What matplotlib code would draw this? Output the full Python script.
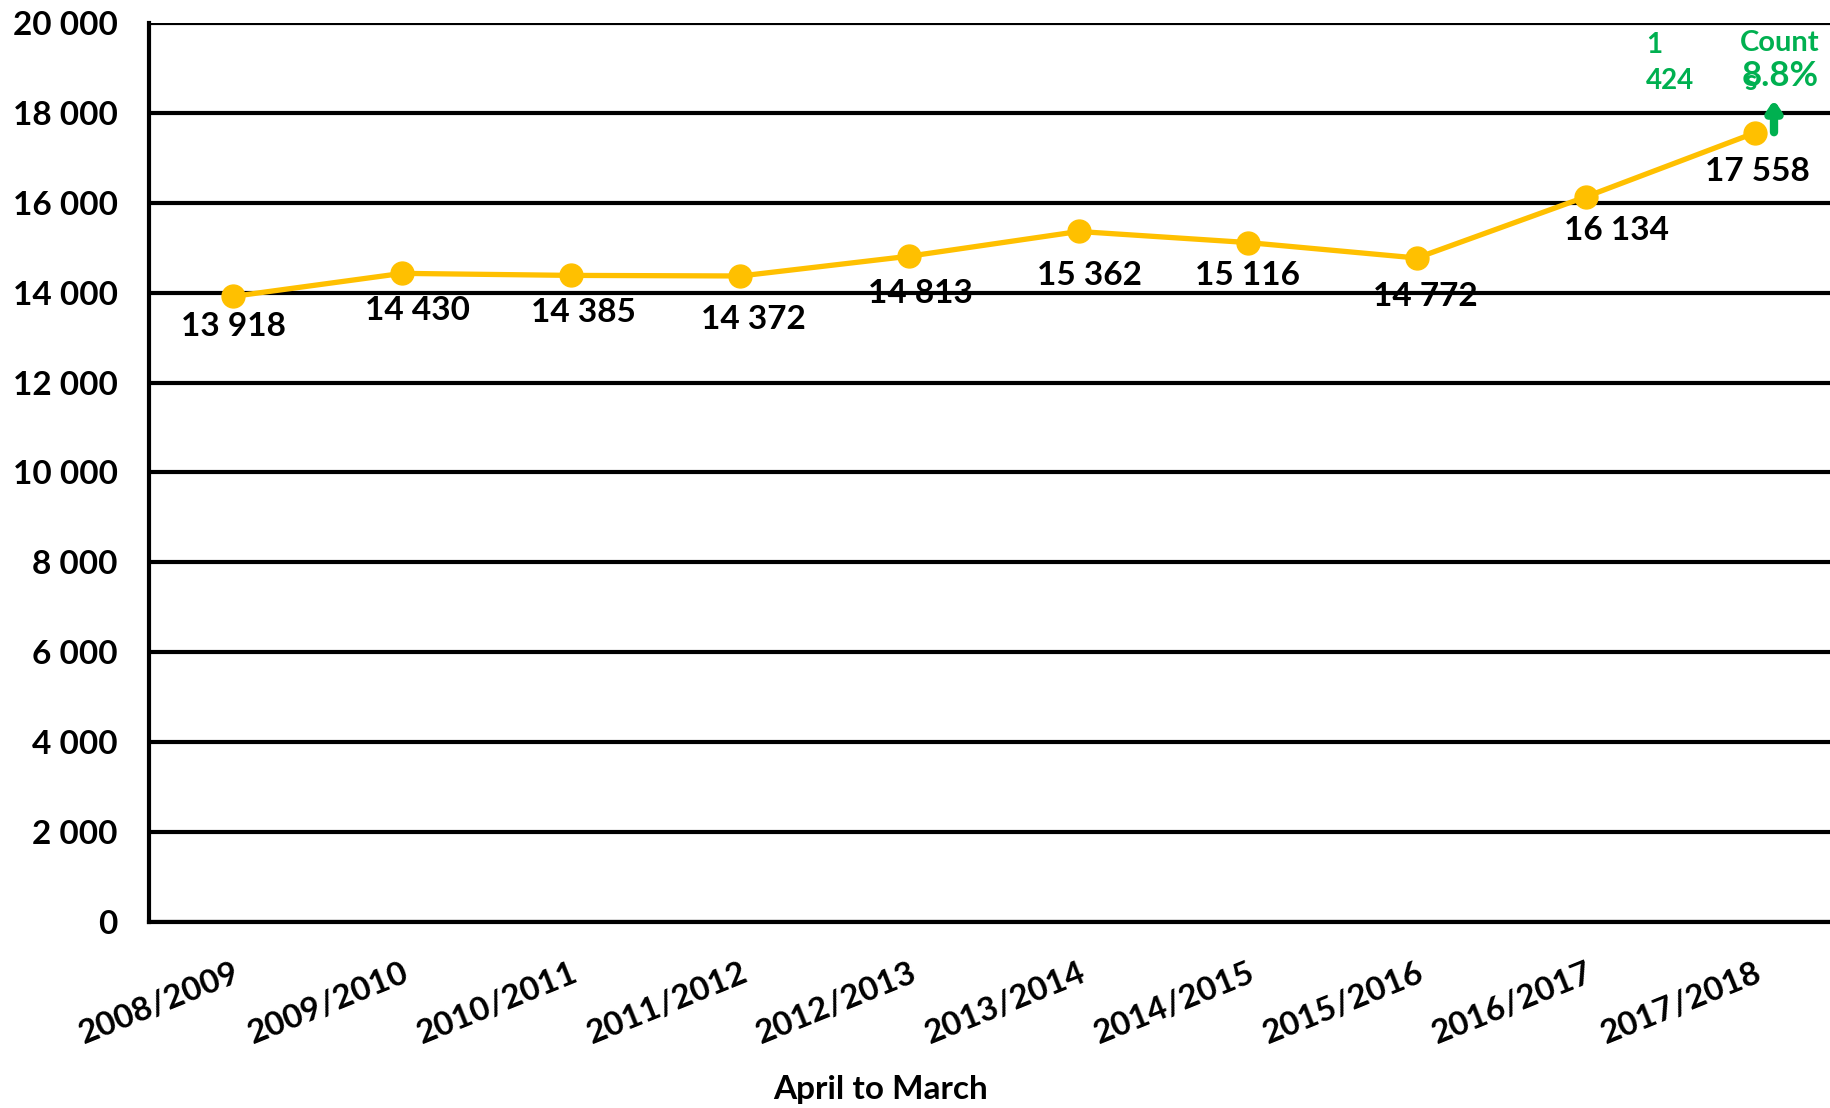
import matplotlib
matplotlib.use("Agg")
import matplotlib.pyplot as plt
from matplotlib.ticker import FuncFormatter

plt.rcParams['font.family'] = ['Lato', 'DejaVu Sans']
plt.rcParams['font.weight'] = 'bold'

years = ["2008/2009", "2009/2010", "2010/2011", "2011/2012", "2012/2013",
         "2013/2014", "2014/2015", "2015/2016", "2016/2017", "2017/2018"]
counts = [13918, 14430, 14385, 14372, 14813, 15362, 15116, 14772, 16134, 17558]
yticks = list(range(0, 20001, 2000))
change_abs = "1\n424"
change_pct = "8.8%"

# label offsets in points (dx, dy)
label_offsets = [(0, -22), (11, -27), (9, -27), (9, -31), (8, -27),
                 (8, -32), (0, -24), (6, -28), (22, -24), (2, -28)]

W, H = 1830, 1108
fig = plt.figure(figsize=(W / 100, H / 100), dpi=100)
ax = fig.add_axes([148.5 / W, 1 - 922 / H, (1839.6 - 148.5) / W, (922 - 23) / H])

x = list(range(len(years)))
ax.plot(x, counts, color="#FFC000", lw=3.8, marker="o", ms=16.5, zorder=3,
        solid_capstyle="round")

ax.set_xlim(-0.5, len(years) - 0.5)
ax.set_ylim(0, 20000)
ax.set_yticks(yticks)
ax.yaxis.set_major_formatter(FuncFormatter(lambda v, p: f"{int(v):,}".replace(",", " ")))
ax.grid(axis="y", color="black", lw=3)
ax.set_axisbelow(True)
for s in ["top", "right"]:
    ax.spines[s].set_visible(False)
ax.spines["left"].set_linewidth(3)
ax.spines["bottom"].set_linewidth(3)
ax.tick_params(axis="both", length=0, labelsize=24)
ax.tick_params(axis="y", pad=22)
ax.set_xticks(x)
ax.set_xticklabels(years, rotation=22, ha="right", rotation_mode="anchor",
                   fontsize=24, fontweight="bold")
for t in ax.get_yticklabels():
    t.set_fontweight("bold")
ax.tick_params(axis="x", pad=26)

for xi, v, (dx, dy) in zip(x, counts, label_offsets):
    ax.annotate(f"{v:,}".replace(",", " "), (xi, v), xytext=(dx, dy),
                textcoords="offset points", ha="center", va="center",
                fontsize=24, fontweight="bold", color="black", zorder=4)

green = "#00B050"
fig.text(881 / W, 1 - 1090 / H, "April to March", ha="center", va="center",
         fontsize=24, fontweight="bold")
fig.text(1646 / W, 1 - 63 / H, change_abs, ha="left", va="center",
         fontsize=20, fontweight="bold", color=green, linespacing=1.5)
fig.text(1750 / W, 1 - 82 / H, "s", ha="center", va="center",
         fontsize=20, fontweight="bold", color=green)
fig.text(1780 / W, 1 - 43 / H, "Count", ha="center", va="center",
         fontsize=21, fontweight="bold", color=green)
fig.text(1780 / W, 1 - 76 / H, change_pct, ha="center", va="center",
         fontsize=25, fontweight="bold", color=green)
ax.annotate("", xy=(1774 / W, 1 - 97 / H), xytext=(1774 / W, 1 - 135 / H),
            xycoords="figure fraction", textcoords="figure fraction",
            arrowprops=dict(arrowstyle="-|>,head_width=0.4,head_length=0.6",
                            color=green, lw=6))

fig.savefig("out.png", dpi=100)
